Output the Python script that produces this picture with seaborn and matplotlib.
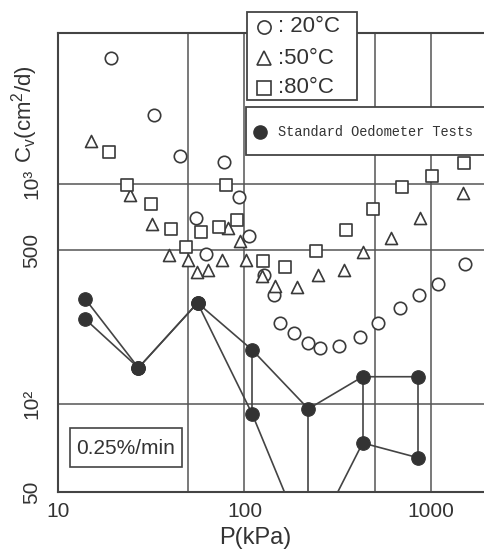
import numpy as np
import pandas as pd
import matplotlib
matplotlib.use("Agg")
import matplotlib.pyplot as plt
import seaborn as sns
from matplotlib.patches import Rectangle
from matplotlib.lines import Line2D
from matplotlib.ticker import NullFormatter

# ---------------- data ----------------
p_20 = [19.2, 32.7, 45.1, 77.6, 93.5, 54.9, 62.2, 105.7, 127, 144, 155, 184, 219, 254, 321, 416, 520, 682, 863, 1092, 1522]
cv_20 = [3740, 2060, 1340, 1260, 873, 700, 481, 580, 386, 313, 233, 210, 189, 180, 184, 202, 233, 273, 313, 351, 433]

p_50 = [15.0, 24.3, 31.9, 39.4, 49.8, 55.6, 63.7, 75.7, 81.6, 94.6, 102, 124, 146, 191, 248, 342, 432, 610, 873, 1485]
cv_50 = [1567, 891, 658, 475, 451, 398, 406, 451, 631, 551, 451, 382, 344, 340, 386, 406, 491, 569, 700, 910]

p_80 = [18.7, 23.4, 31.5, 40.4, 48.6, 58.5, 73.0, 79.6, 91.2, 126, 165, 242, 350, 489, 699, 1012, 1503]
cv_80 = [1397, 990, 811, 624, 517, 605, 638, 990, 685, 447, 420, 496, 618, 770, 969, 1087, 1245]

# standard oedometer tests (two curves, joined at equal pressures)
sot_p = [14, 27, 56, 110, 220, 430, 850]
sot_cv_1 = [300, 146, 288, 176, 95, 133, 133]
sot_cv_2 = [243, 146, 288, 90, 21.7, 66.5, 57]
joined_idx = [3, 4, 5, 6]

temp_labels = ["20°C", "50°C", "80°C"]
x_tick_vals = [10, 100, 1000]
x_tick_labels = ["10", "100", "1000"]
y_tick_labels = ["50", "10²", "500", "10³"]

# ---------------- figure ----------------
sns.set_theme(style="white")
plt.rcParams["font.family"] = ["Liberation Sans", "DejaVu Sans"]

W, H = 485, 551
fig = plt.figure(figsize=(W / 100, H / 100), dpi=100)
fig.patch.set_facecolor("white")


def fx(px):
    return px / W


def fy(py):
    return 1 - py / H


ax = fig.add_axes([fx(58), fy(492), fx(485) - fx(58), fy(33) - fy(492)])
ax.set_xscale("log")
ax.set_yscale("log")
X_MIN, X_MAX = 10, 1948
Y_MIN, Y_MAX = 39.8, 4855
ax.set_xlim(X_MIN, X_MAX)
ax.set_ylim(Y_MIN, Y_MAX)

INK = "#3a3a3a"
GRID = "#555555"

# connecting lines for the oedometer tests
seg_rows = []
for i, (p, c) in enumerate(zip(sot_p, sot_cv_1)):
    seg_rows.append(dict(seg="c1", order=i, p=p, cv=c))
for i, (p, c) in enumerate(zip(sot_p, sot_cv_2)):
    seg_rows.append(dict(seg="c2", order=i, p=p, cv=c))
for k in joined_idx:
    seg_rows.append(dict(seg=f"v{k}", order=0, p=sot_p[k], cv=sot_cv_1[k]))
    seg_rows.append(dict(seg=f"v{k}", order=1, p=sot_p[k], cv=sot_cv_2[k]))
seg_df = pd.DataFrame(seg_rows)
sns.lineplot(data=seg_df, x="p", y="cv", units="seg", estimator=None, sort=False,
             color="#444444", lw=1.2, ax=ax, legend=False, zorder=3)

dots = pd.DataFrame({"p": sot_p + sot_p, "cv": sot_cv_1 + sot_cv_2})
sns.scatterplot(data=dots, x="p", y="cv", s=95, color="#333333", edgecolor="#333333",
                linewidth=0.8, ax=ax, legend=False, zorder=4)

open_kw = dict(color="white", edgecolor=INK, linewidth=1.2, ax=ax, legend=False, zorder=5)
sns.scatterplot(x=p_20, y=cv_20, marker="o", s=80, **open_kw)
sns.scatterplot(x=p_50, y=cv_50, marker="^", s=75, **open_kw)
sns.scatterplot(x=p_80, y=cv_80, marker="s", s=80, **open_kw)

# axes styling
ax.set_xticks(x_tick_vals)
ax.set_xticklabels(x_tick_labels, fontsize=15, color="#333333")
ax.set_xticks([50, 500], minor=True)
ax.xaxis.set_minor_formatter(NullFormatter())
ax.set_yticks([Y_MIN, 100, 500, 1000])
ax.set_yticklabels(y_tick_labels, fontsize=15, color="#333333", rotation=90, va="center")
ax.set_yticks([], minor=True)
ax.tick_params(which="both", length=0)
ax.tick_params(axis="x", pad=7)
ax.tick_params(axis="y", pad=12)
ax.grid(True, which="both", color=GRID, lw=1.1)
ax.set_xlabel("")
ax.set_ylabel("")
for s in ["left", "bottom", "top"]:
    ax.spines[s].set_color("#444444")
    ax.spines[s].set_linewidth(1.5)
ax.spines["right"].set_visible(False)

# axis titles
fig.text(fx(255), fy(538), "P(kPa)", fontsize=17, color="#333333", ha="center", va="center")
fig.text(fx(25), fy(114), r"C$_\mathregular{v}$(cm$^\mathregular{2}$/d)", fontsize=16,
         color="#333333", rotation=90, ha="center", va="center")

# temperature key box
fig.add_artist(Rectangle((fx(247), fy(100)), fx(357) - fx(247), fy(12) - fy(100),
                         transform=fig.transFigure, facecolor="white", edgecolor="#444444",
                         lw=1.3, zorder=6))
key_markers = ["o", "^", "s"]
key_y = [27, 58, 88]
for m, lab, yy in zip(key_markers, temp_labels, key_y):
    fig.add_artist(Line2D([fx(264)], [fy(yy)], marker=m, markersize=9.5, mfc="white",
                          mec=INK, mew=1.2, ls="none", transform=fig.transFigure, zorder=7))
    fig.text(fx(278), fy(yy), ":" + (" " if lab == "20°C" else "") + lab, fontsize=16,
             color="#333333", ha="left", va="center", zorder=8)

# standard oedometer key box
fig.add_artist(Rectangle((fx(246), fy(155)), fx(492) - fx(246), fy(107) - fy(155),
                         transform=fig.transFigure, facecolor="white", edgecolor="#444444",
                         lw=1.3, zorder=6))
fig.add_artist(Line2D([fx(260)], [fy(132)], marker="o", markersize=9.5, mfc="#333333",
                      mec="#333333", ls="none", transform=fig.transFigure, zorder=7))
fig.text(fx(278), fy(132), "Standard Oedometer Tests", fontsize=9.8, color="#333333",
         family=["Liberation Mono", "DejaVu Sans Mono"], ha="left", va="center", zorder=8)

# rate box
fig.add_artist(Rectangle((fx(70), fy(467)), fx(182) - fx(70), fy(428) - fy(467),
                         transform=fig.transFigure, facecolor="white", edgecolor="#444444",
                         lw=1.2, zorder=6))
fig.text(fx(126), fy(448), "0.25%/min", fontsize=15, color="#333333", ha="center",
         va="center", zorder=8)

fig.savefig("out.png", dpi=100, facecolor="white")
